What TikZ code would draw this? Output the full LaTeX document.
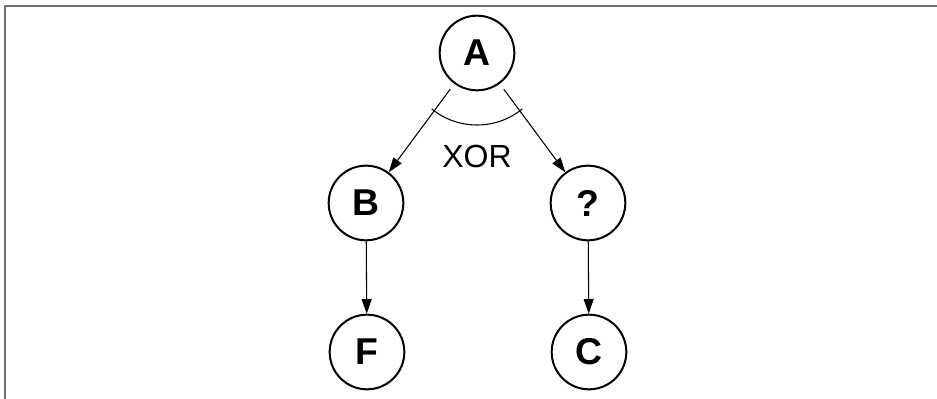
\documentclass[tikz,border=0pt]{standalone}
\usepackage{fontspec}
\setmainfont{Liberation Sans}
\usepackage{tikz}
\usetikzlibrary{arrows.meta}

\tikzset{
  state/.style={circle, draw, line width=1.5pt, minimum size=56pt, inner sep=0pt,
    font=\fontsize{28}{30}\selectfont\bfseries},
  link/.style={line width=0.8pt, -{Triangle[length=11pt,width=7.5pt]}},
}

\begin{document}
\begin{tikzpicture}[x=0.75pt,y=0.75pt,yscale=-1,xscale=1]
\useasboundingbox (0,0) rectangle (937,399);

% frame
\draw [color={rgb, 255:red, 112; green, 112; blue, 112}, line width=1.5pt] (5,399) -- (5,6) -- (937,6) ;

% states
\node [state] (A) at (477,53) {A};
\node [state] (B) at (366,203) {B};
\node [state] (Q) at (588,203) {?};
\node [state] (F) at (367,352) {F};
\node [state] (C) at (589,352) {C};

% branches
\draw [link, shorten <=5pt] (A) -- (B) ;
\draw [link, shorten <=5pt] (A) -- (Q) ;
\draw [link] (B) -- (F) ;
\draw [link] (Q) -- (C) ;

% exclusive choice
\draw [line width=0.8pt] ([shift={(51:72)}]A.center) arc [start angle=51, end angle=129, radius=72] ;
\node [font=\fontsize{24}{26}\selectfont] (xor) at (477,156) {XOR};
\end{tikzpicture}
\end{document}
